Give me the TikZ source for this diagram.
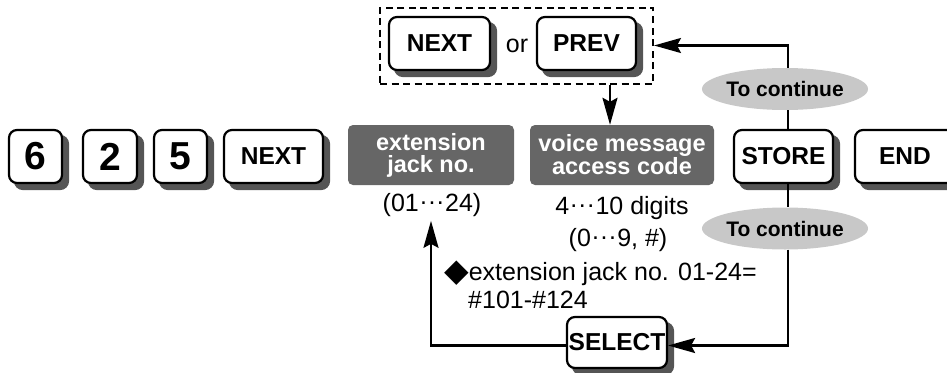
\documentclass[tikz,border=0pt]{standalone}
\usepackage{fontspec}
\setmainfont{Liberation Sans}
\newfontfamily\dejavu{DejaVu Sans}
\usetikzlibrary{shapes.geometric,arrows.meta}
\definecolor{darkbox}{HTML}{666666}
\definecolor{ellgray}{HTML}{C8C8C8}
\definecolor{keyshadowcol}{HTML}{555555}
\newcommand{\mdots}{\raisebox{0.28em}{\kern0.05em.\kern0.06em.\kern0.06em.\kern0.05em}}
% name, x, y, width, height, style, text
\newcommand{\keynode}[7]{%
  \node[keyshadow, minimum width=#4, minimum height=#5] (#1s) at ({#2+6},{#3+6}) {};
  \node[#6, minimum width=#4, minimum height=#5] (#1) at (#2,#3) {#7};}
\tikzset{
  keybox/.style={draw, line width=2.2pt, rounded corners=8pt, fill=white,
    inner sep=0pt, font=\bfseries\fontsize{24.5}{24.5}\selectfont},
  keyshadow/.style={draw=keyshadowcol, line width=2.2pt, fill=keyshadowcol, rounded corners=8pt, inner sep=0pt},
  digitkey/.style={keybox, font=\bfseries\fontsize{39}{39}\selectfont},
  darkbox/.style={fill=darkbox, rounded corners=5pt, minimum height=60pt, inner sep=0pt,
    text=white, align=center, font=\bfseries\fontsize{23.5}{22}\selectfont},
  contell/.style={ellipse, fill=ellgray, minimum width=144pt, minimum height=42pt, inner sep=0pt,
    font=\bfseries\fontsize{21}{21}\selectfont},
  info/.style={inner sep=0pt, font=\fontsize{25}{25}\selectfont},
  conn/.style={line width=2.2pt},
  arr/.style={conn, -{Stealth[length=27pt, width=15pt, inset=4pt]}},
}
\begin{document}
\begin{tikzpicture}[x=1pt,y=-1pt]
\useasboundingbox (0,0) rectangle (947,372);
% top group
\node[draw, line width=2pt, dash pattern=on 7pt off 4.5pt, minimum width=273pt, minimum height=76pt, inner sep=0pt] (grp) at (516.5,45.5) {};
\keynode{nextb}{439.5}{43.5}{101pt}{53pt}{keybox}{NEXT}
\node[info] (or) at (517,46) {or};
\keynode{prev}{586.5}{43.5}{99pt}{53pt}{keybox}{PREV}
% main row
\keynode{k6}{35.5}{156.5}{53pt}{53pt}{digitkey}{6}
\keynode{k2}{110}{156.5}{54pt}{53pt}{digitkey}{2}
\keynode{k5}{180.5}{156.5}{53pt}{53pt}{digitkey}{5}
\keynode{next1}{273.5}{156.5}{99pt}{53pt}{keybox}{NEXT}
\node[darkbox, minimum width=166pt] (ext) at (431,155) {extension\\jack no.};
\node[darkbox, minimum width=184pt] (voice) at (622,155) {voice message\\access code};
\keynode{store}{783.5}{156.5}{99pt}{53pt}{keybox}{STORE}
\keynode{endk}{905}{156.5}{100pt}{53pt}{keybox}{END}
% ellipses
\node[contell] (ell1) at (785,89) {To continue};
\node[contell] (ell2) at (785,228.5) {To continue};
% info texts
\node[info] (t1) at (432,205) {(01\mdots24)};
\node[info] (t2) at (622,208) {4\mdots10 digits};
\node[info] (t3) at (618,240) {(0\mdots9, \#)};
\node[info, anchor=west] (t4) at (444,273) {{\dejavu\fontsize{32}{32}\selectfont\raisebox{-0.04em}{◆}}extension jack no. 01-24=};
\node[info, anchor=west] (t5) at (468,300) {\#101-\#124};
% select
\keynode{sel}{617}{342.5}{100pt}{51pt}{keybox}{SELECT}
% connectors
\coordinate (cx) at (788,0);
\coordinate (cd) at (610,0);
\draw[arr] (grp.south -| cd) -- (voice.north -| cd);
\draw[arr] (ell1.north -| cx) |- (grp.east);
\draw[conn] (ell1.south -| cx) -- (store.north -| cx);
\draw[conn] (store.south -| cx) -- (ell2.north -| cx);
\draw[arr] (ell2.south -| cx) |- ([yshift=-3pt]sel.east);
\draw[arr] ([yshift=-3pt]sel.west) -| ([xshift=-1pt,yshift=-4pt]t1.south);
\end{tikzpicture}
\end{document}
